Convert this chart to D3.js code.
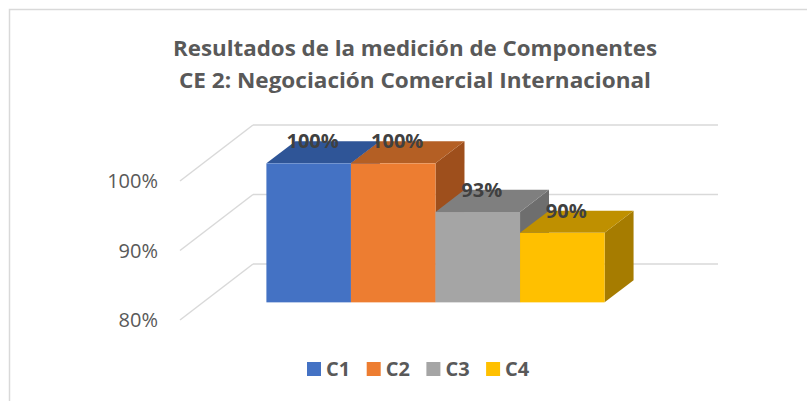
<!DOCTYPE html>
<html>
<head>
<meta charset="utf-8">
<script src="https://cdn.jsdelivr.net/npm/d3@7"></script>
<style>
  body { margin: 0; background: #fff; }
  text { font-family: "Open Sans", sans-serif; }
</style>
</head>
<body>
<div id="chart"></div>
<script>
const titleLines = ["Resultados de la medición de Componentes", "CE 2: Negociación Comercial Internacional"];
const series = ["C1", "C2", "C3", "C4"];
const values = [1.00, 1.00, 0.93, 0.90];
const labels = ["100%", "100%", "93%", "90%"];
const ticks = [0.8, 0.9, 1.0];

const front = ["#4472C4", "#ED7D31", "#A5A5A5", "#FFC000"];
const top_ = ["#2F5597", "#B45F24", "#7F7F7F", "#BF9000"];
const side = ["#2B4E8C", "#9E4F1C", "#6E6E6E", "#A67C00"];

const width = 807, height = 401;

const svg = d3.select("#chart")
    .append("svg")
    .attr("width", width)
    .attr("height", height);

// chart border
svg.append("rect")
    .attr("x", 9.5).attr("y", 9.5)
    .attr("width", 820).attr("height", 420)
    .attr("fill", "none")
    .attr("stroke", "#D9D9D9")
    .attr("stroke-width", 1.5);

// title
const titleWidths = [484, 472];
svg.append("text")
    .attr("x", 415)
    .attr("y", 56)
    .attr("text-anchor", "middle")
    .style("fill", "#595959")
    .style("font-weight", "bold")
    .style("font-size", "22px")
    .selectAll("tspan")
    .data(titleLines)
    .join("tspan")
    .attr("x", 415)
    .attr("dy", (d, i) => i === 0 ? 0 : 32)
    .attr("textLength", (d, i) => titleWidths[i])
    .attr("lengthAdjust", "spacingAndGlyphs")
    .text(d => d);

// 3D projection: depth 0 = front of floor, 1 = back wall
const depthX = 73, depthY = -56;
const d0 = 0.315, d1 = 0.712;

const x = d3.scaleBand()
    .domain(series)
    .range([180, 645])
    .paddingInner(0)
    .paddingOuter(0.75);

const y = d3.scaleLinear()
    .domain([0.8, 1.0])
    .range([320, 181]);

const px = (xv, d) => xv + depthX * d;
const py = (yv, d) => yv + depthY * d;

// back wall gridlines
svg.append("g")
    .selectAll("line.back")
    .data(ticks)
    .join("line")
    .attr("x1", px(180, 1))
    .attr("x2", px(645, 1))
    .attr("y1", d => py(y(d), 1))
    .attr("y2", d => py(y(d), 1))
    .attr("stroke", "#D9D9D9")
    .attr("stroke-width", 1.5);

// side wall gridlines
svg.append("g")
    .selectAll("line.side")
    .data(ticks)
    .join("line")
    .attr("x1", px(180, 0))
    .attr("x2", px(180, 1))
    .attr("y1", d => y(d))
    .attr("y2", d => py(y(d), 1))
    .attr("stroke", "#D9D9D9")
    .attr("stroke-width", 1.5);

// tick labels
svg.append("g")
    .selectAll("text")
    .data(ticks)
    .join("text")
    .attr("x", 158)
    .attr("y", d => y(d))
    .attr("dy", "0.35em")
    .attr("text-anchor", "end")
    .style("fill", "#595959")
    .style("font-size", "20px")
    .text(d3.format(".0%"));

// bars
const bars = svg.append("g")
    .selectAll("g")
    .data(series.map((s, i) => ({ s, v: values[i], i })))
    .join("g");

const pts = arr => arr.map(p => p.join(",")).join(" ");

bars.each(function (d) {
    const g = d3.select(this);
    const xl = x(d.s), xr = x(d.s) + x.bandwidth();
    const yb = y(0.8), yt = y(d.v);
    // right side face
    g.append("polygon")
        .attr("points", pts([
            [px(xr, d0), py(yt, d0)], [px(xr, d1), py(yt, d1)],
            [px(xr, d1), py(yb, d1)], [px(xr, d0), py(yb, d0)]]))
        .attr("fill", side[d.i]);
    // top face
    g.append("polygon")
        .attr("points", pts([
            [px(xl, d0), py(yt, d0)], [px(xl, d1), py(yt, d1)],
            [px(xr, d1), py(yt, d1)], [px(xr, d0), py(yt, d0)]]))
        .attr("fill", top_[d.i]);
    // front face
    g.append("rect")
        .attr("x", px(xl, d0))
        .attr("y", py(yt, d0))
        .attr("width", x.bandwidth())
        .attr("height", yb - yt)
        .attr("fill", front[d.i]);
});

// data labels
svg.append("g")
    .selectAll("text")
    .data(series.map((s, i) => ({ s, v: values[i], l: labels[i] })))
    .join("text")
    .attr("x", d => px(x(d.s) + x.bandwidth() / 2, d0) + 4)
    .attr("y", d => py(y(d.v), d1))
    .attr("dy", "0.35em")
    .attr("text-anchor", "middle")
    .style("fill", "#404040")
    .style("font-weight", "bold")
    .style("font-size", "20px")
    .text(d => d.l);

// legend
const legend = svg.append("g")
    .attr("transform", "translate(307, 362)")
    .selectAll("g")
    .data(series)
    .join("g")
    .attr("transform", (d, i) => `translate(${i * 59.7}, 0)`);

legend.append("rect")
    .attr("width", 14)
    .attr("height", 14)
    .attr("fill", (d, i) => front[i]);

legend.append("text")
    .attr("x", 19)
    .attr("y", 7)
    .attr("dy", "0.35em")
    .style("fill", "#595959")
    .style("font-weight", "bold")
    .style("font-size", "20px")
    .text(d => d);
</script>
</body>
</html>
